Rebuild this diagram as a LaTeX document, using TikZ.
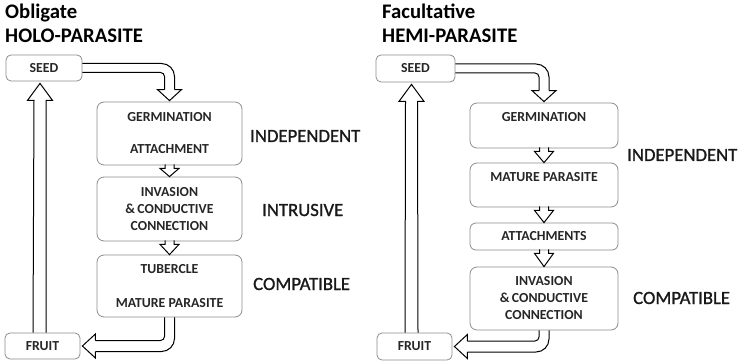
\documentclass[tikz,border=0pt]{standalone}
\usepackage{fontspec}
\setmainfont{Carlito}
\newfontfamily\phasefont[FakeBold=1.2]{Carlito}
\usetikzlibrary{calc}
\tikzset{
  stage/.style={draw=black!45, line width=0.8pt, rounded corners=7pt, minimum width=#1, inner sep=0pt, align=center,
    font=\bfseries\fontsize{13.8}{17}\selectfont, text=black!85},
  stage/.default=145pt,
  btext/.style={inner sep=0pt, font=\bfseries\fontsize{13.8}{17}\selectfont, text=black!85},
  phase/.style={anchor=west, inner sep=0pt, font=\phasefont\fontsize{18.7}{20}\selectfont, text=black!90},
  ttl/.style={anchor=base west, inner sep=0pt, font=\bfseries\fontsize{20.7}{22}\selectfont},
  arr/.style={draw=black, line width=1pt, line join=miter},
}
\newcommand{\smallarr}[2]{%
  \draw[arr] ($(#1.south)+(-4.5,1)$) -- ($(#1.south)+(-4.5,-3)$) -- ($(#1.south)+(-9.5,-3)$) -- (#2.north)
     -- ($(#1.south)+(9.5,-3)$) -- ($(#1.south)+(4.5,-3)$) -- ($(#1.south)+(4.5,1)$);}
\newcommand{\seedarr}[2]{%
  \draw[arr, rounded corners=13pt] ($(#1.east)+(0,4.5)$) -- ($(#1.east -| #2.north)+(5,4.5)$) -- ($(#2.north)+(5,12)$);
  \draw[arr, rounded corners=4pt] ($(#1.east)+(0,-4.5)$) -- ($(#1.east -| #2.north)+(-5,-4.5)$) -- ($(#2.north)+(-5,12)$);
  \draw[arr] ($(#2.north)+(-5,12)$) -- ($(#2.north)+(-12,12)$) -- ($(#2.north)+(0,1)$) -- ($(#2.north)+(12,12)$) -- ($(#2.north)+(5,12)$);}
\newcommand{\fruitarr}[2]{%
  \draw[arr, rounded corners=13pt] ($(#1.south)+(5,0)$) -- ($(#1.south |- #2.east)+(5,-5.5)$) -- ($(#2.east)+(15,-5.5)$);
  \draw[arr, rounded corners=4pt] ($(#1.south)+(-5,0)$) -- ($(#1.south |- #2.east)+(-5,5.5)$) -- ($(#2.east)+(15,5.5)$);
  \draw[arr] ($(#2.east)+(15,5.5)$) -- ($(#2.east)+(15,12)$) -- ($(#2.east)+(2,0)$) -- ($(#2.east)+(15,-12)$) -- ($(#2.east)+(15,-5.5)$);}
\newcommand{\uparr}[2]{%
  \draw[arr] ($(#1.north)+(-9.5,0)$) -- ($(#2.south)+(-10,-19)$) -- ($(#2.south)+(-16.5,-19)$) -- ($(#2.south)+(-4,-2)$)
     -- ($(#2.south)+(8.5,-19)$) -- ($(#2.south)+(2,-19)$) -- ($(#1.north)+(3.5,0)$);}
\begin{document}
\begin{tikzpicture}[x=1pt, y=1pt]
\useasboundingbox (0,0) rectangle (741,362);
% ---------- left panel ----------
\node[ttl] (t1) at (5,343) {Obligate};
\node[ttl] (t2) at (5,319) {HOLO-PARASITE};
\node[stage=76pt, minimum height=26pt, rounded corners=5pt] (seedL) at (44,294) {SEED};
\node[stage, minimum height=63pt] (germL) at (169.5,228.5) {GERMINATION\\[15pt]ATTACHMENT};
\node[stage, minimum height=64pt] (invL) at (169.5,153) {INVASION\\\&\,CONDUCTIVE\\CONNECTION};
\node[stage, minimum height=62pt] (tubL) at (169.5,76) {TUBERCLE\\[17pt]MATURE PARASITE};
\node[stage=75pt, minimum height=26pt, rounded corners=5pt] (fruitL) at (42.5,16) {FRUIT};
\node[phase] (indL) at (250,226) {INDEPENDENT};
\node[phase] (intL) at (262,152) {INTRUSIVE};
\node[phase] (comL) at (253,78) {COMPATIBLE};
\seedarr{seedL}{germL}
\smallarr{germL}{invL}
\smallarr{invL}{tubL}
\fruitarr{tubL}{fruitL}
\uparr{fruitL}{seedL}
% ---------- right panel ----------
\node[ttl] (t3) at (382,343) {Facultative};
\node[ttl] (t4) at (382,319) {HEMI-PARASITE};
\node[stage=79pt, minimum height=27pt, rounded corners=5pt] (seedR) at (415.5,293.5) {SEED};
\node[stage=148pt, minimum height=45pt] (germR) at (544,236.5) {};
\node[btext] (germRt) at (544,245) {GERMINATION};
\node[stage=148pt, minimum height=44pt] (matR) at (544,177) {};
\node[btext] (matRt) at (544,185) {MATURE PARASITE};
\node[stage=148pt, minimum height=27pt, rounded corners=6pt] (attR) at (544,125.5) {ATTACHMENTS};
\node[stage=148pt, minimum height=63pt] (invR) at (544,63.5) {INVASION\\\&\,CONDUCTIVE\\CONNECTION};
\node[stage=75pt, minimum height=27pt, rounded corners=5pt] (fruitR) at (414.5,15.5) {FRUIT};
\node[phase] (indR) at (627,207) {INDEPENDENT};
\node[phase] (comR) at (633,64) {COMPATIBLE};
\seedarr{seedR}{germR}
\smallarr{germR}{matR}
\smallarr{matR}{attR}
\smallarr{attR}{invR}
\fruitarr{invR}{fruitR}
\uparr{fruitR}{seedR}
\end{tikzpicture}
\end{document}
